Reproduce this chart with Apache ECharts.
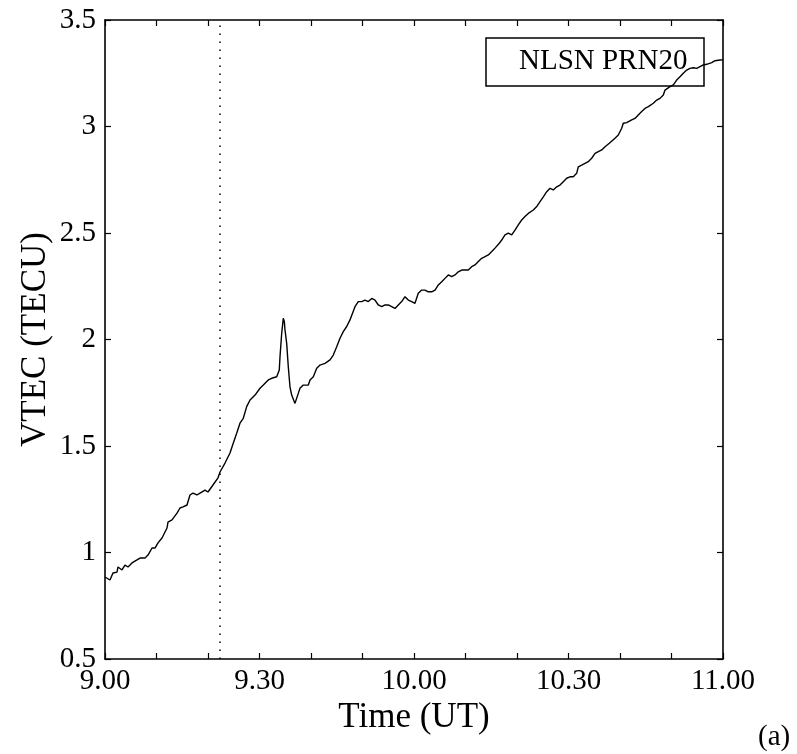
<!DOCTYPE html>
<html>
<head>
<meta charset="utf-8">
<script src="https://cdn.jsdelivr.net/npm/echarts@6/dist/echarts.min.js"></script>
<style>
html,body{margin:0;padding:0;background:#fff;}
#chart{width:797px;height:754px;}
</style>
</head>
<body>
<div id="chart"></div>
<script>
// Time in minutes after 09:00 UT
var timeMin = [0,0.97,1.55,2.33,2.52,3.30,3.88,4.47,5.24,6.21,6.80,7.77,8.35,9.13,9.71,10.29,11.07,12.04,12.23,13.01,13.98,14.56,15.15,15.92,16.50,17.09,17.86,18.45,19.42,20.00,20.97,21.94,22.33,23.30,24.27,24.9,25.57,26.21,26.85,27.51,28.16,29.13,30.10,30.74,31.71,32.37,33.34,33.84,33.98,34.31,34.62,34.82,34.95,35.28,35.59,35.92,36.25,36.89,37.22,37.53,37.86,38.50,39.48,39.81,40.45,41.11,41.75,42.72,43.69,44.33,44.99,45.63,46.27,46.93,47.57,48.54,49.18,49.84,50.49,51.13,51.79,52.43,53.07,53.73,54.37,55.01,55.67,56.31,56.95,57.61,58.25,58.89,59.55,60.19,60.83,61.49,62.14,62.78,63.44,64.08,64.72,65.38,66.02,66.66,67.32,67.96,68.60,69.26,69.90,70.54,71.20,71.84,72.49,73.15,73.79,74.43,75.09,75.73,76.56,77.03,77.67,78.31,78.97,79.61,80.25,80.91,81.55,82.19,82.52,83.17,83.83,84.47,85.11,85.77,86.41,87.05,87.71,88.35,88.99,89.65,90.29,90.93,91.59,91.90,92.56,93.20,93.84,94.50,95.15,95.79,96.45,97.09,97.92,99.03,99.67,100.33,100.64,101.30,102.27,102.91,103.55,104.21,104.85,105.50,105.83,106.47,107.13,107.77,108.41,108.74,109.71,110.35,111.01,111.65,112.29,112.95,113.59,114.23,114.89,115.53,116.17,116.83,117.81,118.45,119.42,120];
var vtec = [0.885,0.871,0.904,0.908,0.932,0.918,0.941,0.932,0.951,0.965,0.974,0.974,0.988,1.021,1.021,1.045,1.068,1.115,1.143,1.153,1.185,1.209,1.214,1.223,1.270,1.279,1.270,1.279,1.293,1.284,1.317,1.350,1.378,1.420,1.467,1.513,1.560,1.607,1.630,1.685,1.716,1.739,1.771,1.786,1.810,1.818,1.825,1.857,1.919,2.029,2.100,2.084,2.045,1.982,1.872,1.778,1.739,1.700,1.708,1.747,1.771,1.786,1.786,1.810,1.825,1.865,1.880,1.888,1.904,1.927,1.966,2.006,2.037,2.061,2.092,2.154,2.178,2.178,2.185,2.178,2.193,2.185,2.162,2.154,2.162,2.162,2.154,2.146,2.162,2.178,2.201,2.185,2.178,2.170,2.217,2.232,2.232,2.224,2.224,2.232,2.256,2.271,2.287,2.303,2.295,2.303,2.318,2.326,2.326,2.326,2.342,2.350,2.366,2.381,2.389,2.397,2.413,2.429,2.452,2.467,2.491,2.499,2.491,2.514,2.538,2.561,2.577,2.592,2.585,2.608,2.624,2.647,2.670,2.694,2.710,2.702,2.717,2.725,2.741,2.757,2.764,2.764,2.780,2.811,2.819,2.827,2.835,2.851,2.874,2.882,2.890,2.905,2.921,2.945,2.960,2.992,3.015,3.018,3.031,3.038,3.054,3.070,3.085,3.093,3.101,3.109,3.124,3.132,3.148,3.171,3.187,3.195,3.218,3.234,3.250,3.265,3.273,3.276,3.273,3.281,3.289,3.292,3.300,3.309,3.312,3.313];
var xTickLabels = ['9.00','9.30','10.00','10.30','11.00'];
var eventTime = [22.3];
var seriesLabel = 'NLSN PRN20';

var FONT = '"Liberation Serif","Times New Roman",serif';
var seriesData = timeMin.map(function(t,i){return [t, vtec[i]];});

var chart = echarts.init(document.getElementById('chart'), null, {renderer:'canvas'});
var axisLineStyle = {color:'#000', width:1.6};
chart.setOption({
  animation:false,
  backgroundColor:'#fff',
  grid:{left:105, top:20, right:74, bottom:95, containLabel:false},
  xAxis:[{
    type:'value', min:0, max:120, interval:10, position:'bottom',
    name:'Time (UT)', nameLocation:'middle', nameGap:41, nameMoveOverlap:false,
    nameTextStyle:{fontFamily:FONT, fontSize:35, color:'#000'},
    axisLine:{show:true, onZero:false, lineStyle:axisLineStyle},
    axisTick:{show:true, inside:true, length:6, lineStyle:{color:'#000', width:1.2}},
    splitLine:{show:false},
    axisLabel:{fontFamily:FONT, fontSize:29, color:'#000', margin:8,
      formatter:function(v){ return (v % 30 === 0) ? xTickLabels[v/30] : ''; }}
  },{
    type:'value', min:0, max:120, interval:10, position:'top',
    axisLine:{show:true, onZero:false, lineStyle:axisLineStyle},
    axisTick:{show:true, inside:true, length:6, lineStyle:{color:'#000', width:1.2}},
    axisLabel:{show:false}, splitLine:{show:false}
  }],
  yAxis:[{
    type:'value', min:0.5, max:3.5, interval:0.5, position:'left',
    name:'VTEC (TECU)', nameLocation:'middle', nameGap:52, nameMoveOverlap:false,
    nameTextStyle:{fontFamily:FONT, fontSize:35, color:'#000'},
    axisLine:{show:true, onZero:false, lineStyle:axisLineStyle},
    axisTick:{show:true, inside:true, length:6, lineStyle:{color:'#000', width:1.2}},
    splitLine:{show:false},
    axisLabel:{fontFamily:FONT, fontSize:29, color:'#000', margin:9,
      formatter:function(v){ return String(Math.round(v*10)/10); }}
  },{
    type:'value', min:0.5, max:3.5, interval:0.5, position:'right',
    axisLine:{show:true, onZero:false, lineStyle:axisLineStyle},
    axisTick:{show:true, inside:true, length:6, lineStyle:{color:'#000', width:1.2}},
    axisLabel:{show:false}, splitLine:{show:false}
  }],
  graphic:[
    {type:'rect', shape:{x:486, y:38, width:218, height:48},
     style:{fill:'rgba(0,0,0,0)', stroke:'#000', lineWidth:1.5}, z:10},
    {type:'text', x:519, y:61,
     style:{text:seriesLabel, font:'29px "Liberation Serif", serif', fill:'#000', verticalAlign:'middle', align:'left'}, z:10},
    {type:'text', x:758, y:737,
     style:{text:'(a)', font:'29px "Liberation Serif", serif', fill:'#000', verticalAlign:'middle', align:'left'}}
  ],
  series:[{
    type:'line', name:seriesLabel, data:seriesData, showSymbol:false, symbol:'none',
    lineStyle:{color:'#000', width:1.4}, z:5,
    markLine:{
      silent:true, symbol:['none','none'], label:{show:false},
      lineStyle:{color:'#000', width:1.5, type:[1.5,6.5]},
      data: eventTime.map(function(t){return {xAxis:t};})
    }
  }]
});
</script>
</body>
</html>
